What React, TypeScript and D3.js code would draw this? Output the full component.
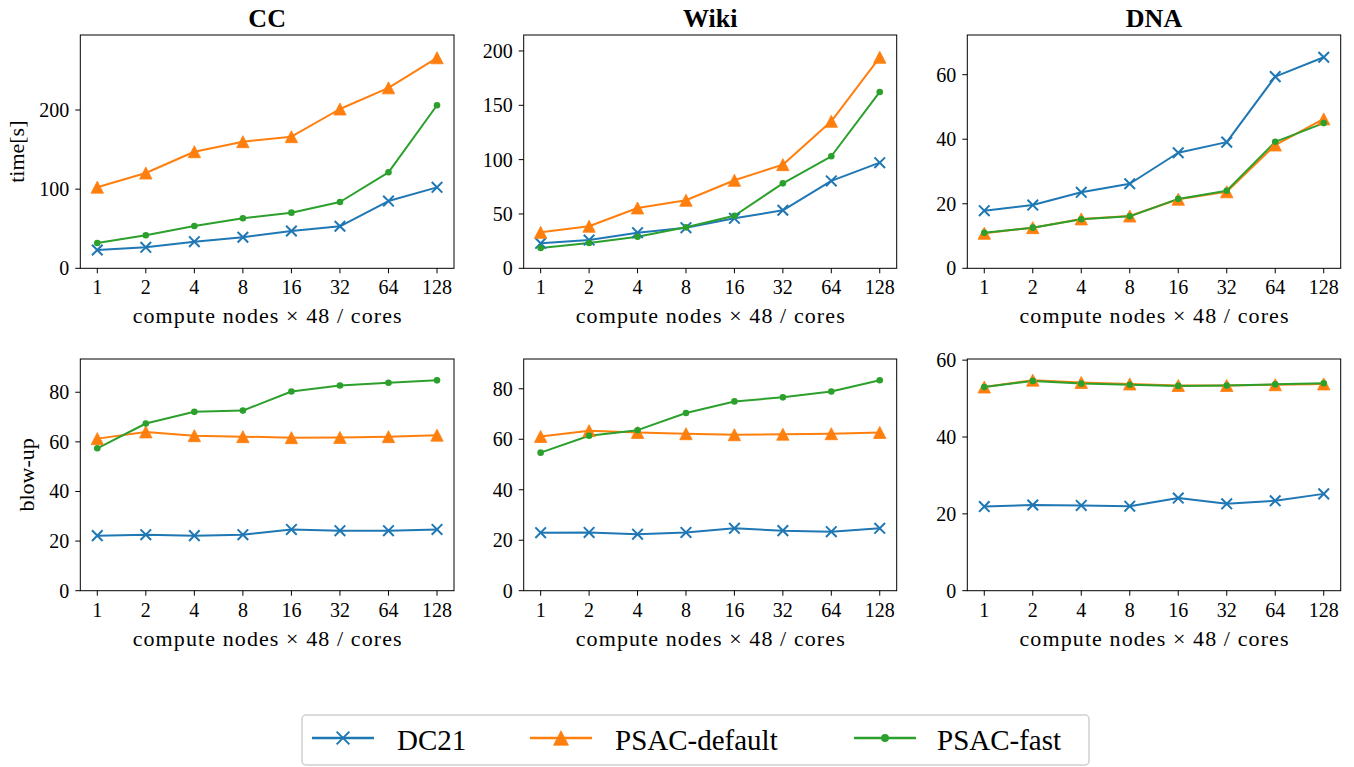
import React from "react";
import * as d3 from "d3";

// ---------- data ----------
const nodeCounts = ["1", "2", "4", "8", "16", "32", "64", "128"];
const seriesNames = ["DC21", "PSAC-default", "PSAC-fast"];
const datasetTitles = ["CC", "Wiki", "DNA"];
const rowLabels = ["time[s]", "blow-up"];

const ccTimeDC21 = [23.1, 26.5, 33.6, 39.2, 47.1, 53.1, 85.0, 102.3];
const ccTimeDefault = [102.5, 120.4, 147.3, 160.0, 166.3, 201.3, 228.0, 266.0];
const ccTimeFast = [32.0, 41.7, 53.4, 63.2, 70.3, 83.8, 121.3, 206.0];

const wikiTimeDC21 = [23.0, 26.0, 32.8, 37.4, 46.0, 53.4, 80.4, 97.2];
const wikiTimeDefault = [33.1, 38.7, 55.5, 62.6, 81.0, 95.4, 135.3, 194.2];
const wikiTimeFast = [18.7, 23.3, 29.1, 37.7, 48.4, 78.2, 103.1, 162.3];

const dnaTimeDC21 = [17.85, 19.6, 23.55, 26.2, 35.8, 39.1, 59.4, 65.4];
const dnaTimeDefault = [10.85, 12.6, 15.3, 16.2, 21.4, 23.7, 38.2, 46.3];
const dnaTimeFast = [11.0, 12.6, 15.2, 16.1, 21.5, 24.05, 39.2, 45.0];

const ccBlowDC21 = [22.2, 22.6, 22.2, 22.6, 24.7, 24.2, 24.2, 24.7];
const ccBlowDefault = [61.3, 64.0, 62.5, 62.1, 61.7, 61.8, 62.1, 62.7];
const ccBlowFast = [57.4, 67.4, 72.1, 72.6, 80.3, 82.7, 83.8, 84.8];

const wikiBlowDC21 = [23.0, 23.1, 22.4, 23.1, 24.7, 23.8, 23.4, 24.7];
const wikiBlowDefault = [61.1, 63.4, 62.7, 62.2, 61.8, 62.0, 62.2, 62.7];
const wikiBlowFast = [54.7, 61.4, 63.6, 70.4, 75.0, 76.6, 78.9, 83.4];

const dnaBlowDC21 = [21.9, 22.3, 22.2, 22.0, 24.1, 22.6, 23.4, 25.2];
const dnaBlowDefault = [53.0, 54.8, 54.2, 53.8, 53.4, 53.4, 53.6, 53.8];
const dnaBlowFast = [53.0, 54.6, 53.9, 53.6, 53.3, 53.4, 53.7, 54.0];

const ccTimeTicks = [0, 100, 200];
const wikiTimeTicks = [0, 50, 100, 150, 200];
const dnaTimeTicks = [0, 20, 40, 60];
const ccBlowTicks = [0, 20, 40, 60, 80];
const wikiBlowTicks = [0, 20, 40, 60, 80];
const dnaBlowTicks = [0, 20, 40, 60];

const ccTimeMax = 294.8;
const wikiTimeMax = 214.7;
const dnaTimeMax = 72.3;
const ccBlowMax = 93.4;
const wikiBlowMax = 91.8;
const dnaBlowMax = 60.3;

// ---------- styles / layout ----------
const COLORS = ["#1f77b4", "#ff7f0e", "#2ca02c"];
const FONT = "'Liberation Serif', 'Times New Roman', serif";
const colLeft = [80.3, 523.7, 967.3];
const colRight = [454, 896.7, 1340.7];
const rowTop = [35, 359];
const rowBottom = [268.3, 590.7];

type Panel = {
  row: number;
  col: number;
  series: number[][];
  ticks: number[];
  yMax: number;
};

const panels: Panel[] = [
  { row: 0, col: 0, series: [ccTimeDC21, ccTimeDefault, ccTimeFast], ticks: ccTimeTicks, yMax: ccTimeMax },
  { row: 0, col: 1, series: [wikiTimeDC21, wikiTimeDefault, wikiTimeFast], ticks: wikiTimeTicks, yMax: wikiTimeMax },
  { row: 0, col: 2, series: [dnaTimeDC21, dnaTimeDefault, dnaTimeFast], ticks: dnaTimeTicks, yMax: dnaTimeMax },
  { row: 1, col: 0, series: [ccBlowDC21, ccBlowDefault, ccBlowFast], ticks: ccBlowTicks, yMax: ccBlowMax },
  { row: 1, col: 1, series: [wikiBlowDC21, wikiBlowDefault, wikiBlowFast], ticks: wikiBlowTicks, yMax: wikiBlowMax },
  { row: 1, col: 2, series: [dnaBlowDC21, dnaBlowDefault, dnaBlowFast], ticks: dnaBlowTicks, yMax: dnaBlowMax },
];

function Marker({ kind, x, y, color, scale = 1 }: { kind: number; x: number; y: number; color: string; scale?: number }) {
  if (kind === 0) {
    const h = 5.3 * scale;
    return (
      <path
        d={`M${x - h},${y - h}L${x + h},${y + h}M${x - h},${y + h}L${x + h},${y - h}`}
        stroke={color}
        strokeWidth={2}
        fill="none"
      />
    );
  }
  if (kind === 1) {
    const w = 6.2 * scale;
    const h = 6 * scale;
    return <path d={`M${x},${y - h}L${x - w},${y + h}L${x + w},${y + h}Z`} fill={color} stroke={color} strokeWidth={0.8} />;
  }
  return <circle cx={x} cy={y} r={3.3 * scale} fill={color} />;
}

function PanelView({ p }: { p: Panel }) {
  const left = colLeft[p.col];
  const right = colRight[p.col];
  const top = rowTop[p.row];
  const bottom = rowBottom[p.row];
  const x = d3.scalePoint<string>().domain(nodeCounts).range([left, right]).padding(0.35);
  const y = d3.scaleLinear().domain([0, p.yMax]).range([bottom, top]);
  const line = d3
    .line<number>()
    .x((_, i) => x(nodeCounts[i]) as number)
    .y((v) => y(v));
  const cx = (left + right) / 2;
  return (
    <g>
      {p.series.map((s, si) => (
        <path key={"l" + si} d={line(s) || ""} fill="none" stroke={COLORS[si]} strokeWidth={2} strokeLinejoin="round" />
      ))}
      {p.series.map((s, si) => (
        <g key={"m" + si}>
          {s.map((v, i) => (
            <Marker key={i} kind={si} x={x(nodeCounts[i]) as number} y={y(v)} color={COLORS[si]} />
          ))}
        </g>
      ))}
      <rect x={left} y={top} width={right - left} height={bottom - top} fill="none" stroke="#000" strokeWidth={1} />
      {nodeCounts.map((n) => {
        const xv = x(n) as number;
        return (
          <g key={"xt" + n}>
            <line x1={xv} x2={xv} y1={bottom} y2={bottom + 5} stroke="#000" strokeWidth={1} />
            <text x={xv} y={bottom + 26} textAnchor="middle" fontFamily={FONT} fontSize={20} fill="#000">
              {n}
            </text>
          </g>
        );
      })}
      {p.ticks.map((t) => {
        const yv = y(t);
        return (
          <g key={"yt" + t}>
            <line x1={left - 5} x2={left} y1={yv} y2={yv} stroke="#000" strokeWidth={1} />
            <text x={left - 11} y={yv} dy="0.35em" textAnchor="end" fontFamily={FONT} fontSize={20} fill="#000">
              {t}
            </text>
          </g>
        );
      })}
      <text
        x={cx}
        y={bottom + 55}
        textAnchor="middle"
        fontFamily={FONT}
        fontSize={22}
        textLength={269}
        fill="#000"
      >
        compute nodes × 48 / cores
      </text>
    </g>
  );
}

export default function App() {
  const legendX = [312, 530, 854];
  const legendTextX = [397, 615, 937];
  return (
    <div style={{ position: "absolute", left: 0, top: 0 }}>
      <svg width={1354} height={767} style={{ display: "block", background: "#fff" }}>
        <rect x={0} y={0} width={1354} height={767} fill="#fff" />
        {panels.map((p, i) => (
          <PanelView key={i} p={p} />
        ))}
        {datasetTitles.map((t, i) => (
          <text
            key={t}
            x={(colLeft[i] + colRight[i]) / 2}
            y={27}
            textAnchor="middle"
            fontFamily={FONT}
            fontWeight="bold"
            fontSize={26}
            fill="#000"
          >
            {t}
          </text>
        ))}
        <text
          transform={`translate(24,${(rowTop[0] + rowBottom[0]) / 2}) rotate(-90)`}
          textAnchor="middle"
          fontFamily={FONT}
          fontSize={22}
          fill="#000"
        >
          {rowLabels[0]}
        </text>
        <text
          transform={`translate(34,${(rowTop[1] + rowBottom[1]) / 2}) rotate(-90)`}
          textAnchor="middle"
          fontFamily={FONT}
          fontSize={22}
          fill="#000"
        >
          {rowLabels[1]}
        </text>
        <rect x={302} y={715} width={787} height={50} rx={4} fill="#fff" stroke="#d0d0d0" strokeWidth={1.5} />
        {seriesNames.map((s, i) => (
          <g key={s}>
            <line x1={legendX[i]} x2={legendX[i] + 62} y1={738} y2={738} stroke={COLORS[i]} strokeWidth={2.5} />
            <Marker kind={i} x={legendX[i] + 31} y={738} color={COLORS[i]} scale={1.2} />
            <text x={legendTextX[i]} y={750} fontFamily={FONT} fontSize={29} fill="#000">
              {s}
            </text>
          </g>
        ))}
      </svg>
    </div>
  );
}
